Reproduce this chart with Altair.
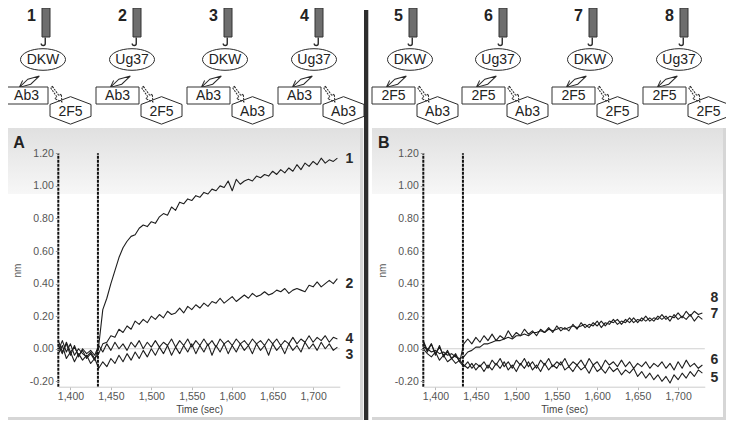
import altair as alt
import pandas as pd

FONT = "Liberation Sans"

# ---------------- data ----------------
times = list(range(1385, 1731, 5))          # sampling grid (s)
injection_times = [1385, 1434]
x_tick_values = [1400, 1450, 1500, 1550, 1600, 1650, 1700]
y_tick_values = [-0.2, 0.0, 0.2, 0.4, 0.6, 0.8, 1.0, 1.2]
x_min, x_max = 1385, 1733
y_min, y_max = -0.233, 1.2

curve_1 = [0.02, -0.03, 0.04, -0.02, 0.01, -0.04, -0.01, -0.06, -0.03, -0.07,
           0.02, 0.24, 0.31, 0.40, 0.48, 0.56, 0.62, 0.66, 0.69, 0.70,
           0.74, 0.76, 0.75, 0.78, 0.77, 0.81, 0.83, 0.82, 0.87, 0.85,
           0.90, 0.89, 0.92, 0.91, 0.94, 0.93, 0.96, 0.95, 0.98, 0.97,
           1.00, 0.99, 1.03, 0.97, 1.04, 1.01, 1.03, 1.04, 1.03, 1.06,
           1.05, 1.07, 1.06, 1.09, 1.07, 1.10, 1.08, 1.11, 1.09, 1.13,
           1.10, 1.14, 1.12, 1.15, 1.13, 1.17, 1.14, 1.16, 1.15, 1.17]
curve_2 = [-0.01, 0.05, -0.02, 0.03, -0.04, 0.00, -0.03, -0.05, -0.02, -0.06,
           -0.03, 0.03, 0.04, 0.08, 0.07, 0.12, 0.10, 0.14, 0.12, 0.17,
           0.15, 0.18, 0.16, 0.20, 0.18, 0.21, 0.19, 0.23, 0.21, 0.22,
           0.25, 0.22, 0.26, 0.24, 0.27, 0.25, 0.28, 0.26, 0.29, 0.28,
           0.31, 0.28, 0.30, 0.32, 0.29, 0.31, 0.33, 0.31, 0.34, 0.32,
           0.33, 0.35, 0.33, 0.34, 0.36, 0.35, 0.37, 0.34, 0.36, 0.37,
           0.36, 0.35, 0.39, 0.38, 0.41, 0.38, 0.40, 0.42, 0.40, 0.43]
curve_3 = [-0.03, 0.02, -0.06, -0.02, -0.08, -0.03, -0.07, -0.04, -0.09, -0.06,
           -0.12, -0.08, -0.11, -0.06, -0.09, -0.04, -0.08, -0.03, -0.07, -0.02,
           -0.06, -0.01, -0.05, 0.00, -0.04, 0.01, -0.03, 0.02, -0.04, 0.01,
           -0.03, 0.02, -0.02, 0.03, -0.03, 0.02, -0.02, 0.03, -0.04, 0.02,
           -0.02, 0.03, -0.03, 0.02, -0.02, 0.03, -0.01, 0.02, -0.03, 0.03,
           -0.01, 0.02, -0.04, 0.03, -0.01, 0.02, -0.03, 0.03, -0.01, 0.02,
           -0.02, 0.04, 0.00, 0.03, -0.01, 0.04, 0.00, 0.03, -0.01, 0.01]
curve_4 = [0.05, -0.02, 0.03, -0.04, 0.02, -0.05, 0.00, -0.03, -0.01, -0.04,
           0.02, -0.02, 0.03, -0.01, 0.04, 0.00, 0.03, -0.01, 0.04, 0.01,
           0.05, 0.00, 0.04, 0.01, 0.05, 0.01, 0.04, 0.02, 0.06, 0.01,
           0.05, 0.02, 0.06, 0.01, 0.05, 0.02, 0.06, 0.02, 0.05, 0.01,
           0.06, 0.03, 0.05, 0.02, 0.06, 0.03, 0.05, 0.02, 0.06, 0.03,
           0.05, 0.02, 0.06, 0.03, 0.06, 0.02, 0.05, 0.03, 0.07, 0.03,
           0.06, 0.04, 0.08, 0.04, 0.07, 0.05, 0.08, 0.04, 0.07, 0.06]
curve_5 = [0.00, -0.03, -0.05, -0.02, -0.07, -0.04, -0.08, -0.06, -0.09, -0.07,
           -0.10, -0.12, -0.09, -0.13, -0.10, -0.14, -0.10, -0.13, -0.09, -0.12,
           -0.08, -0.13, -0.10, -0.14, -0.09, -0.12, -0.08, -0.13, -0.10, -0.14,
           -0.09, -0.13, -0.10, -0.12, -0.08, -0.13, -0.11, -0.14, -0.10, -0.13,
           -0.11, -0.15, -0.10, -0.14, -0.12, -0.15, -0.11, -0.14, -0.12, -0.16,
           -0.13, -0.15, -0.12, -0.17, -0.14, -0.18, -0.15, -0.19, -0.16, -0.20,
           -0.17, -0.21, -0.16, -0.19, -0.15, -0.18, -0.14, -0.17, -0.13, -0.15]
curve_6 = [0.05, -0.01, 0.03, -0.03, 0.01, -0.04, -0.02, -0.06, -0.04, -0.08,
           -0.11, -0.08, -0.12, -0.09, -0.11, -0.08, -0.12, -0.07, -0.10, -0.06,
           -0.11, -0.08, -0.12, -0.07, -0.10, -0.06, -0.11, -0.08, -0.12, -0.07,
           -0.10, -0.06, -0.11, -0.08, -0.10, -0.06, -0.11, -0.08, -0.10, -0.07,
           -0.11, -0.06, -0.10, -0.08, -0.12, -0.07, -0.10, -0.08, -0.11, -0.07,
           -0.11, -0.08, -0.12, -0.09, -0.11, -0.08, -0.12, -0.09, -0.11, -0.08,
           -0.12, -0.09, -0.13, -0.08, -0.12, -0.07, -0.11, -0.09, -0.12, -0.10]
curve_7 = [0.01, 0.00, -0.02, -0.01, -0.03, -0.02, -0.04, -0.03, -0.05, -0.06,
           -0.05, -0.02, -0.01, 0.01, 0.01, 0.03, 0.03, 0.04, 0.05, 0.05,
           0.06, 0.07, 0.06, 0.08, 0.08, 0.09, 0.08, 0.10, 0.10, 0.11,
           0.10, 0.12, 0.11, 0.12, 0.13, 0.12, 0.13, 0.14, 0.13, 0.14,
           0.15, 0.13, 0.16, 0.14, 0.17, 0.14, 0.17, 0.16, 0.18, 0.15,
           0.18, 0.16, 0.19, 0.16, 0.19, 0.17, 0.19, 0.17, 0.20, 0.18,
           0.20, 0.17, 0.21, 0.18, 0.20, 0.18, 0.21, 0.17, 0.20, 0.18]
curve_8 = [0.04, -0.02, 0.03, -0.04, 0.02, -0.05, -0.01, -0.06, -0.03, -0.08,
           0.03, 0.06, 0.03, 0.07, 0.04, 0.08, 0.05, 0.09, 0.05, 0.08,
           0.06, 0.11, 0.07, 0.10, 0.08, 0.12, 0.09, 0.11, 0.08, 0.12,
           0.10, 0.13, 0.10, 0.14, 0.11, 0.13, 0.11, 0.15, 0.12, 0.16,
           0.13, 0.15, 0.14, 0.17, 0.13, 0.16, 0.15, 0.18, 0.15, 0.17,
           0.16, 0.19, 0.16, 0.18, 0.17, 0.20, 0.17, 0.19, 0.18, 0.21,
           0.18, 0.20, 0.19, 0.22, 0.19, 0.23, 0.20, 0.23, 0.21, 0.22]

label_time = 1745
labels_A = ["1", "2", "4", "3"]
label_vals_A = [1.164, 0.40, 0.058, -0.036]
labels_B = ["8", "7", "6", "5"]
label_vals_B = [0.31, 0.215, -0.07, -0.18]

assay_numbers = ["1", "2", "3", "4", "5", "6", "7", "8"]
ligand = ["DKW", "Ug37", "DKW", "Ug37", "DKW", "Ug37", "DKW", "Ug37"]
first_ab = ["Ab3", "Ab3", "Ab3", "Ab3", "2F5", "2F5", "2F5", "2F5"]
second_ab = ["2F5", "2F5", "Ab3", "Ab3", "Ab3", "Ab3", "2F5", "2F5"]

# ---------------- layout (pixels) ----------------
W, H = 718, 412
unit_x = [38, 129, 220, 311, 405, 495, 585, 676]
ell_dx = {"DKW": -3, "Ug37": -5}

frames = pd.DataFrame({
    "x": [0, 0, 364, 364, 356],
    "x2": [355.3, 352, 718, 715, 360.3],
    "y": [120, 120, 120, 120, 2],
    "y2": [412, 409, 412, 409, 412],
    "fill": ["#d6d6d6", "#ffffff", "#d6d6d6", "#ffffff", "#2e2e2e"],
})
grads = pd.DataFrame({"x": [0, 364], "x2": [352, 715], "y": [120, 120], "y2": [186, 186]})

P = lambda f: alt.X(f + ":Q", scale=None, axis=None)
Q = lambda f: alt.Y(f + ":Q", scale=None, axis=None)

frame_layer = alt.Chart(frames).mark_rect().encode(
    x=P("x"), x2="x2:Q", y=Q("y"), y2="y2:Q", color=alt.Color("fill:N", scale=None))
grad_layer = alt.Chart(grads).mark_rect(color=alt.LinearGradient(
    gradient="linear",
    stops=[alt.GradientStop(color="#e0e0e0", offset=0), alt.GradientStop(color="#f7f7f7", offset=1)],
    x1=0, x2=0, y1=0, y2=1)).encode(x=P("x"), x2="x2:Q", y=Q("y"), y2="y2:Q")

bars = pd.DataFrame({"x": [c - 4 for c in unit_x], "x2": [c + 4 for c in unit_x],
                     "y": [0] * 8, "y2": [29] * 8})
bar_layer = alt.Chart(bars).mark_rect(color="#6e6e6e", stroke="#333333", strokeWidth=1).encode(
    x=P("x"), x2="x2:Q", y=Q("y"), y2="y2:Q")

boxes = pd.DataFrame({"x": [c - 41 for c in unit_x], "x2": [c + 2 for c in unit_x],
                      "y": [79] * 8, "y2": [96] * 8})
box_layer = alt.Chart(boxes).mark_rect(fill="#ffffff", stroke="#333333", strokeWidth=1).encode(
    x=P("x"), x2="x2:Q", y=Q("y"), y2="y2:Q")

ELLIPSE = ("M -1 0 C -1 -0.265 -0.552 -0.48 0 -0.48 C 0.552 -0.48 1 -0.265 1 0 "
           "C 1 0.265 0.552 0.48 0 0.48 C -0.552 0.48 -1 0.265 -1 0 Z")
HEXAGON = "M 0 -0.67 L 1 -0.29 L 1 0.29 L 0 0.67 L -1 0.29 L -1 -0.29 Z"
DIAMOND = "M -1 0 L 0 -0.25 L 1 0 L 0 0.25 Z M -1 0 L -0.45 -0.38 M -1 0 L -0.45 0.38"
ARROW = "M -1 -0.13 L 0.25 -0.13 L 0.25 -0.45 L 1 0 L 0.25 0.45 L 0.25 0.13 L -1 0.13 Z"
HOOK = "M 0.25 -1 L 0.25 0.2 C 0.25 0.75 -0.55 0.75 -0.55 0.2"

ell = pd.DataFrame({"x": [c + ell_dx[l] for c, l in zip(unit_x, ligand)], "y": [51.5] * 8,
                    "label": ligand})
hexes = pd.DataFrame({"x": [c + 24.5 for c in unit_x], "y": [102.4] * 8, "label": second_ab})
box_txt = pd.DataFrame({"x": [c - 19.5 for c in unit_x], "y": [87.8] * 8, "label": first_ab})
arr1 = pd.DataFrame({"x": [c - 16.7 for c in unit_x], "y": [73.7] * 8})
arr2 = pd.DataFrame({"x": [c + 10.7 for c in unit_x], "y": [86.5] * 8})
hooks = pd.DataFrame({"x": [c - 2 for c in unit_x], "y": [34.5] * 8})
nums = pd.DataFrame({"x": [c - 14.5 for c in unit_x], "y": [12.5] * 8, "label": assay_numbers})
letters = pd.DataFrame({"x": [5.3, 370], "y": [140.3, 140.3], "label": ["A", "B"]})


def sym(df, path, size, angle=0, dash=None, width=1.0):
    kw = dict(shape=path, size=size, filled=False, color="#2a2a2a", opacity=1,
              strokeWidth=width, angle=angle)
    if dash:
        kw["strokeDash"] = dash
    return alt.Chart(df).mark_point(**kw).encode(x=P("x"), y=Q("y"))


def txt(df, size, bold=False, align="center", baseline="middle"):
    return alt.Chart(df).mark_text(font=FONT, fontSize=size, fontWeight="bold" if bold else "normal",
                                   color="#222222", align=align, baseline=baseline).encode(
        x=P("x"), y=Q("y"), text="label:N")


schematic = [
    bar_layer,
    sym(hooks, HOOK, 100, width=1.4),
    sym(ell, ELLIPSE, 45 * 45),
    sym(arr1, DIAMOND, 23 * 23, angle=330.5),
    box_layer,
    sym(arr2, ARROW, 18 * 18, angle=55, dash=[2, 1]),
    sym(hexes, HEXAGON, 41 * 41),
    txt(ell, 14), txt(box_txt, 14), txt(hexes.assign(y=103.5), 14),
    txt(nums, 16, bold=True, baseline="alphabetic"),
    txt(letters, 16, bold=True, align="left", baseline="alphabetic"),
]


def long_df(names, curves):
    rows = []
    for n, vals in zip(names, curves):
        for t, v in zip(times, vals):
            rows.append({"t": t, "v": v, "s": n})
    return pd.DataFrame(rows)


def panel(names, curves, lab_names, lab_vals, x_range, y_offset):
    xs = alt.Scale(domain=[x_min, x_max], range=x_range, nice=False, zero=False)
    ys = alt.Scale(domain=[y_min, y_max], range=[378.7, 145.3], nice=False, zero=False)
    ax = alt.Axis(values=x_tick_values, format=",d", title="Time (sec)", orient="bottom",
                  offset=-33.3, grid=False, domainColor="#cccccc", domainWidth=1,
                  tickColor="#bbbbbb", tickSize=3, labelFont=FONT, labelFontSize=10.5,
                  labelColor="#555555", labelPadding=2, titleFont=FONT, titleFontSize=10,
                  titleFontWeight="normal", titleColor="#444444", titlePadding=2, zindex=2)
    ay = alt.Axis(values=y_tick_values,
                  labelExpr="replace(format(datum.value, '.2f'), '\u2212', '-')",
                  orient="left", offset=y_offset, grid=False, domain=False,
                  tickColor="#999999", tickSize=3, labelFont=FONT, labelFontSize=10.5,
                  labelColor="#555555", labelPadding=2, title="nm", titleFont=FONT,
                  titleFontSize=10, titleFontWeight="normal", titleColor="#555555",
                  titlePadding=7, zindex=2)
    X = lambda f: alt.X(f, scale=xs, axis=ax)
    Y = lambda f: alt.Y(f, scale=ys, axis=ay)
    zero = alt.Chart(pd.DataFrame({"t": [x_min], "t2": [x_max], "v": [0.0]})).mark_rule(
        color="#d0d0d0", strokeWidth=1).encode(x=X("t:Q"), x2="t2:Q", y=Y("v:Q"))
    lines = alt.Chart(long_df(names, curves)).mark_line(
        color="#1e1e1e", strokeWidth=1.1, strokeJoin="round").encode(
        x=X("t:Q"), y=Y("v:Q"), detail="s:N")
    inj = alt.Chart(pd.DataFrame({"t": injection_times, "v": [y_min] * 2, "v2": [y_max] * 2})
                    ).mark_rule(color="#111111", strokeWidth=2, strokeDash=[3, 1]).encode(
        x=X("t:Q"), y=Y("v:Q"), y2="v2:Q")
    labs = alt.Chart(pd.DataFrame({"t": [label_time] * len(lab_names), "v": lab_vals,
                                   "lab": lab_names})).mark_text(
        font=FONT, fontSize=14, fontWeight="bold", color="#2a2a2a",
        align="center", baseline="middle").encode(x=X("t:Q"), y=Y("v:Q"), text="lab:N")
    return alt.layer(zero, lines, inj, labs)


panel_A = panel(["1", "2", "3", "4"], [curve_1, curve_2, curve_3, curve_4],
                labels_A, label_vals_A, [50.3, 331.8], -50.3)
panel_B = panel(["5", "6", "7", "8"], [curve_5, curve_6, curve_7, curve_8],
                labels_B, label_vals_B, [415.3, 696.8], -415.3)

chart = alt.layer(frame_layer, grad_layer, *schematic, panel_A, panel_B).resolve_scale(
    x="independent", y="independent"
).properties(
    width=W, height=H, autosize=alt.AutoSizeParams(type="none"), padding=0
).configure_view(strokeWidth=0)

chart.save("out.html", embed_options={"renderer": "svg", "actions": False})
